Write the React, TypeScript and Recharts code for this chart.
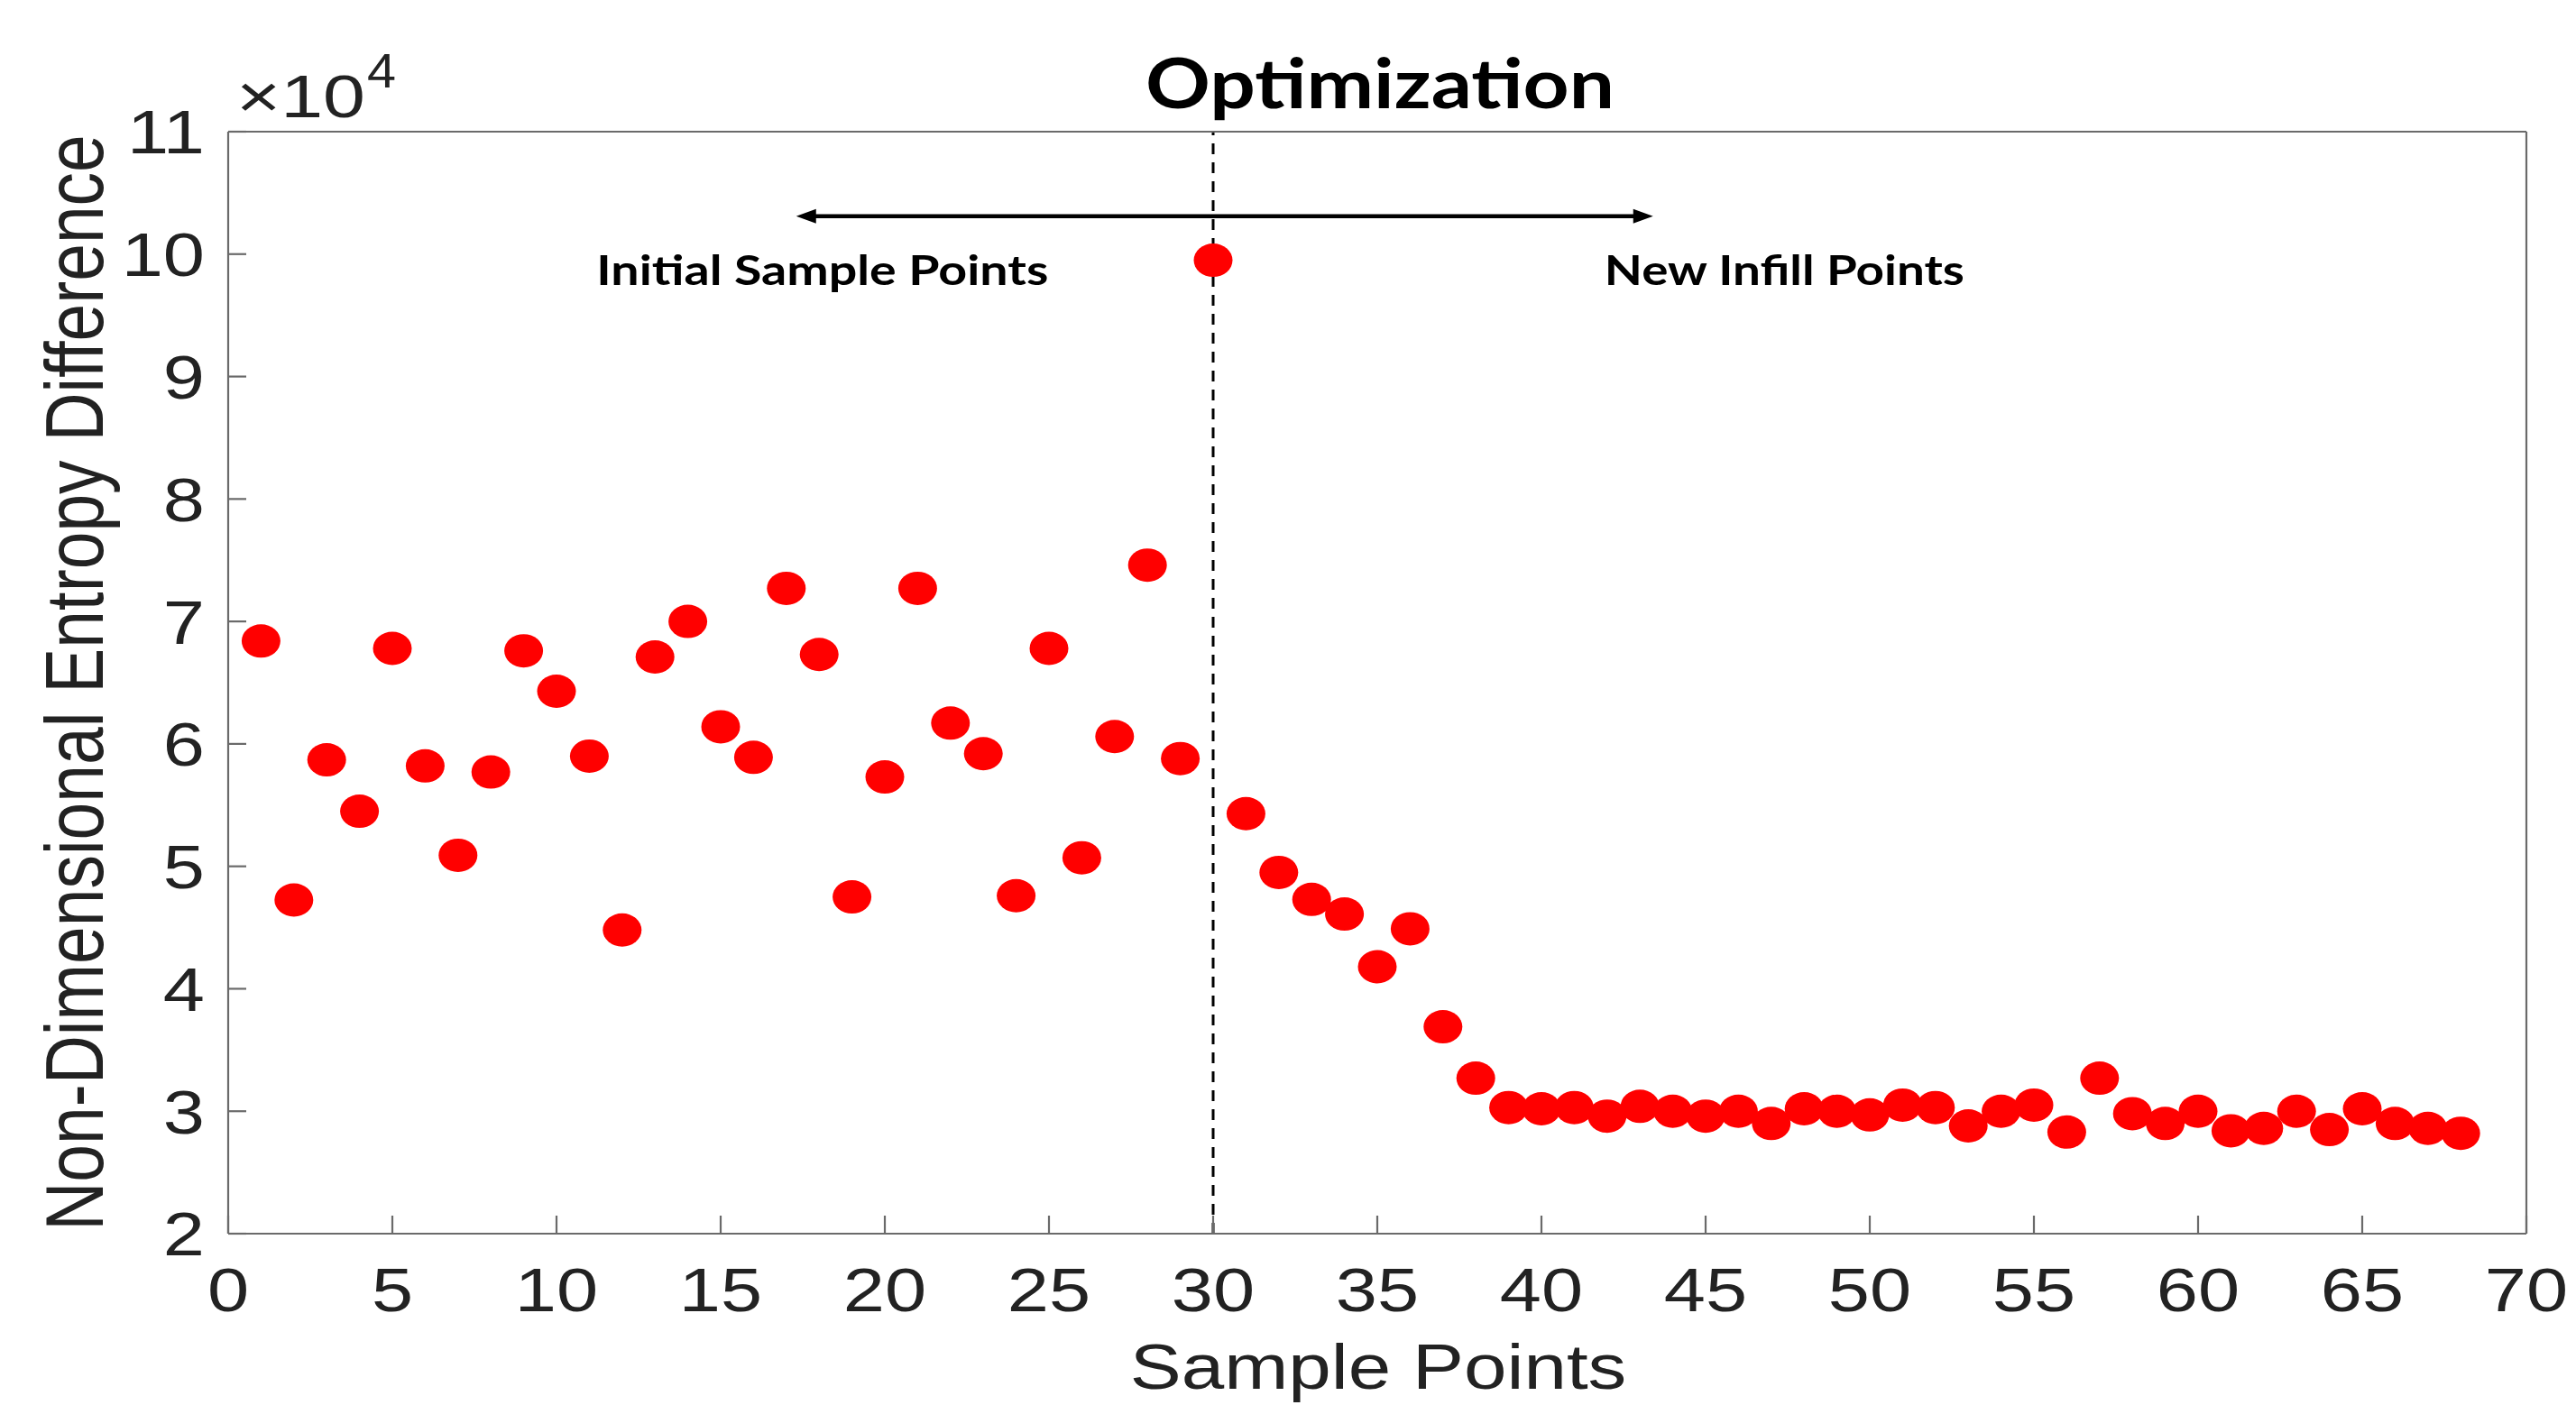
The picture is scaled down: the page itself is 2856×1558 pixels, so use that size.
import { ReferenceDot, ReferenceLine, Scatter, ScatterChart, XAxis, YAxis } from 'recharts'

const sampleIndex = [
  1, 2, 3, 4, 5, 6, 7, 8, 9, 10, 11, 12, 13, 14, 15, 16, 17, 18, 19, 20,
  21, 22, 23, 24, 25, 26, 27, 28, 29, 30, 31, 32, 33, 34, 35, 36, 37, 38, 39, 40,
  41, 42, 43, 44, 45, 46, 47, 48, 49, 50, 51, 52, 53, 54, 55, 56, 57, 58, 59, 60,
  61, 62, 63, 64, 65, 66, 67, 68,
]

const entropyDiff = [
  68400, 47250, 58700, 54500, 67800, 58200, 50900, 57700, 67600, 64300,
  59000, 44800, 67100, 70000, 61400, 58900, 72700, 67300, 47500, 57300,
  72700, 61700, 59200, 47600, 67800, 50700, 60600, 74600, 58800, 99500,
  54300, 49500, 47300, 46100, 41800, 44900, 36900, 32700, 30300, 30200,
  30300, 29600, 30400, 30000, 29600, 30000, 29000, 30200, 30000, 29700,
  30500, 30300, 28800, 30000, 30500, 28300, 32700, 29800, 29000, 30000,
  28400, 28600, 30000, 28500, 30200, 29000, 28600, 28200,
]

const xTicks = [0, 5, 10, 15, 20, 25, 30, 35, 40, 45, 50, 55, 60, 65, 70]
const yTicks = [20000, 30000, 40000, 50000, 60000, 70000, 80000, 90000, 100000, 110000]

// split between initial samples and infill, and the arrow above it
const splitAt = 30
const arrowSpan = [17.3, 43.4]
const arrowLevel = 103100
const notes = [
  { text: 'Initial Sample Points', x: 18.1, y: 97500, len: 501 },
  { text: 'New Infill Points', x: 47.4, y: 97500, len: 399 },
]

const data = sampleIndex.map((x, i) => ({ x, y: entropyDiff[i] }))

const W = 2856
const H = 1558
const STRETCH = 1.22
const axisFont = 'Liberation Sans, Arial, Helvetica, sans-serif'
const boldFont = 'Lato, "Open Sans", sans-serif'
const axisColor = '#6a6a6a'
const textColor = '#222'

const Dot = (p: any) => <ellipse cx={p.cx} cy={p.cy} rx={21.5} ry={18.5} fill="#ff0000" />

const XTick = ({ x, y, payload }: any) => (
  <text
    transform={`translate(${x},${y}) scale(${STRETCH},1)`}
    textAnchor="middle"
    dy="0.72em"
    fontSize={68}
    fontFamily={axisFont}
    fill={textColor}
  >
    {payload.value}
  </text>
)

const YTick = ({ x, y, payload }: any) => (
  <text
    transform={`translate(${x},${y}) scale(${STRETCH},1)`}
    textAnchor="end"
    dy="0.36em"
    fontSize={68}
    fontFamily={axisFont}
    fill={textColor}
  >
    {payload.value / 10000}
  </text>
)

const Arrow = (p: any) => {
  const { x1, y1, x2, y2 } = p
  const h = 22
  const w = 8
  return (
    <g>
      <line x1={x1 + h - 2} y1={y1} x2={x2 - h + 2} y2={y2} stroke="#000" strokeWidth={4.5} />
      <polygon points={`${x1},${y1} ${x1 + h},${y1 - w} ${x1 + h},${y1 + w}`} fill="#000" />
      <polygon points={`${x2},${y2} ${x2 - h},${y2 - w} ${x2 - h},${y2 + w}`} fill="#000" />
    </g>
  )
}

const noteShape = (text: string, len: number) => (p: any) => (
  <text
    x={p.cx}
    y={p.cy}
    textAnchor="middle"
    fontSize={46}
    fontWeight={700}
    fontFamily={boldFont}
    textLength={len}
    lengthAdjust="spacingAndGlyphs"
    fill="#000"
  >
    {text}
  </text>
)

const line = { stroke: axisColor, strokeWidth: 2.2 }

export default function App() {
  return (
    <div style={{ position: 'absolute', left: 0, top: 0, width: W, height: H, background: '#fff' }}>
      <ScatterChart width={W} height={H} margin={{ top: 116, right: 25, bottom: 80, left: 133 }}>
        <XAxis
          xAxisId="bottom"
          dataKey="x"
          type="number"
          domain={[0, 70]}
          ticks={xTicks}
          interval={0}
          height={110}
          tickSize={-20}
          tickMargin={57}
          tick={XTick}
          axisLine={line}
          tickLine={line}
        />
        <XAxis
          xAxisId="top"
          orientation="top"
          type="number"
          domain={[0, 70]}
          ticks={xTicks}
          interval={0}
          height={30}
          tickSize={-20}
          tick={false}
          axisLine={line}
          tickLine={line}
        />
        <YAxis
          yAxisId="left"
          dataKey="y"
          type="number"
          domain={[20000, 110000]}
          ticks={yTicks}
          interval={0}
          width={120}
          tickSize={-20}
          tickMargin={46}
          tick={YTick}
          axisLine={line}
          tickLine={line}
        />
        <YAxis
          yAxisId="right"
          orientation="right"
          type="number"
          domain={[20000, 110000]}
          ticks={yTicks}
          interval={0}
          width={30}
          tickSize={-20}
          tick={false}
          axisLine={line}
          tickLine={line}
        />
        <Scatter
          xAxisId="bottom"
          yAxisId="left"
          data={data}
          shape={Dot}
          isAnimationActive={false}
        />
        <ReferenceLine
          xAxisId="bottom"
          yAxisId="left"
          x={splitAt}
          stroke="#000"
          strokeWidth={3}
          strokeDasharray="12 9"
        />
        <ReferenceLine
          xAxisId="bottom"
          yAxisId="left"
          segment={[
            { x: arrowSpan[0], y: arrowLevel },
            { x: arrowSpan[1], y: arrowLevel },
          ]}
          shape={Arrow}
        />
        {notes.map((n) => (
          <ReferenceDot
            key={n.text}
            xAxisId="bottom"
            yAxisId="left"
            x={n.x}
            y={n.y}
            r={0}
            shape={noteShape(n.text, n.len)}
          />
        ))}
      </ScatterChart>
      <svg width={W} height={H} style={{ position: 'absolute', left: 0, top: 0, pointerEvents: 'none' }}>
        <text
          x={1530}
          y={120}
          textAnchor="middle"
          fontSize={76}
          fontWeight={700}
          fontFamily={boldFont}
          textLength={520}
          lengthAdjust="spacingAndGlyphs"
          fill="#000"
        >
          Optimization
        </text>
        <text x={262} y={130} fontSize={66} fontFamily={axisFont} fill={textColor} textLength={143} lengthAdjust="spacingAndGlyphs">
          ×10
        </text>
        <text x={407} y={97} fontSize={54} fontFamily={axisFont} fill={textColor} textLength={32} lengthAdjust="spacingAndGlyphs">
          4
        </text>
        <text
          transform={`translate(1528,1540) scale(${STRETCH},1)`}
          textAnchor="middle"
          fontSize={70}
          fontFamily={axisFont}
          fill={textColor}
        >
          Sample Points
        </text>
        <text
          transform={`translate(114,757) scale(${STRETCH},1) rotate(-90)`}
          textAnchor="middle"
          fontSize={75}
          fontFamily={axisFont}
          fill={textColor}
        >
          Non-Dimensional Entropy Difference
        </text>
      </svg>
    </div>
  )
}
